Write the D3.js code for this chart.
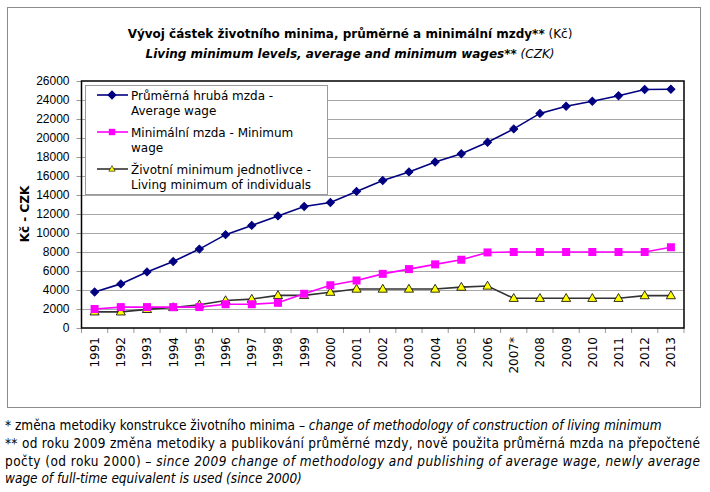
<!DOCTYPE html>
<html lang="cs">
<head>
    <meta charset="UTF-8">
    <title>Vývoj částek životního minima</title>
    <script src="https://d3js.org/d3.v7.min.js"></script>
    <style>
        body { margin: 0; background: #fff; }
        svg { display: block; font-family: "DejaVu Sans", Verdana, sans-serif; }
        .axis text { font-size: 12px; fill: #000; }
        .axis path { display: none; }
        .axis line { stroke: #999; }
        .grid line { stroke: #a6a6a6; stroke-width: 1; }
        .legend text { font-size: 12px; fill: #000; }
        .note { font-family: "DejaVu Sans Condensed", "DejaVu Sans", sans-serif; font-size: 13.5px; fill: #000; }
    </style>
</head>
<body>
    <svg id="chart" width="710" height="492"></svg>

    <script>
        // categories and series (CZK)
        var years = ["1991", "1992", "1993", "1994", "1995", "1996", "1997", "1998", "1999", "2000",
            "2001", "2002", "2003", "2004", "2005", "2006", "2007*", "2008", "2009", "2010",
            "2011", "2012", "2013"];
        var averageWage = [3792, 4644, 5904, 7004, 8307, 9825, 10802, 11801, 12797, 13219,
            14378, 15524, 16430, 17466, 18344, 19546, 20957, 22592, 23344, 23864,
            24455, 25112, 25128];
        var minimumWage = [2000, 2200, 2200, 2200, 2200, 2500, 2500, 2650, 3600, 4500,
            5000, 5700, 6200, 6700, 7185, 7955, 8000, 8000, 8000, 8000,
            8000, 8000, 8500];
        var livingMinimum = [1700, 1700, 1960, 2160, 2440, 2890, 3040, 3430, 3430, 3770,
            4100, 4100, 4100, 4100, 4300, 4420, 3126, 3126, 3126, 3126,
            3126, 3410, 3410];
        var yTicks = [0, 2000, 4000, 6000, 8000, 10000, 12000, 14000, 16000, 18000, 20000, 22000, 24000, 26000];

        var series = [
            { name: ["Průměrná hrubá mzda -", "Average wage"], values: averageWage, color: "#000080", marker: "diamond" },
            { name: ["Minimální mzda - Minimum", "wage"], values: minimumWage, color: "#ff00ff", marker: "square" },
            { name: ["Životní minimum jednotlivce -", "Living minimum of individuals"], values: livingMinimum, color: "#333333", marker: "triangle" }
        ];

        var svg = d3.select("#chart");

        // outer frame
        svg.append("rect")
            .attr("x", 7.5).attr("y", 7.5)
            .attr("width", 693).attr("height", 400)
            .attr("fill", "none").attr("stroke", "#8c8c8c");

        // plot area
        var plot = { left: 81.5, right: 684, top: 81, bottom: 328 };

        var x = d3.scaleBand()
            .domain(years)
            .range([plot.left, plot.right]);

        var y = d3.scaleLinear()
            .domain([0, 26000])
            .range([plot.bottom, plot.top]);

        // gridlines
        svg.append("g")
            .attr("class", "grid")
            .selectAll("line")
            .data(yTicks.slice(1, -1))
            .enter().append("line")
            .attr("x1", plot.left).attr("x2", plot.right)
            .attr("y1", function (d) { return Math.round(y(d)) + 0.5; })
            .attr("y2", function (d) { return Math.round(y(d)) + 0.5; });

        // y axis
        svg.append("g")
            .attr("class", "axis")
            .attr("transform", "translate(" + plot.left + ",0)")
            .call(d3.axisLeft(y).tickValues(yTicks).tickSize(5).tickPadding(7).tickFormat(d3.format("d")));

        // x axis ticks between categories
        var xTickPos = years.map(function (d) { return x(d); }).concat([plot.right]);
        svg.append("g")
            .attr("class", "axis")
            .selectAll("line")
            .data(xTickPos)
            .enter().append("line")
            .attr("x1", function (d) { return d; }).attr("x2", function (d) { return d; })
            .attr("y1", plot.bottom).attr("y2", plot.bottom + 5);

        svg.append("g")
            .attr("class", "axis")
            .selectAll("text")
            .data(years)
            .enter().append("text")
            .attr("transform", function (d) {
                return "translate(" + (x(d) + x.bandwidth() / 2 + 4.5) + "," + (plot.bottom + 9) + ") rotate(-90)";
            })
            .attr("text-anchor", "end")
            .text(function (d) { return d; });

        // plot frame
        svg.append("rect")
            .attr("x", plot.left).attr("y", plot.top)
            .attr("width", plot.right - plot.left).attr("height", plot.bottom - plot.top)
            .attr("fill", "none").attr("stroke", "#000").attr("stroke-width", 1.5);

        // lines and markers
        var line = d3.line()
            .x(function (d, i) { return x(years[i]) + x.bandwidth() / 2; })
            .y(function (d) { return y(d); });

        function drawMarker(g, type, color) {
            if (type === "diamond") {
                g.append("path").attr("d", d3.symbol(d3.symbolSquare, 32)())
                    .attr("transform", "rotate(45)")
                    .attr("fill", color).attr("stroke", color);
            } else if (type === "square") {
                g.append("rect").attr("x", -4).attr("y", -4).attr("width", 8).attr("height", 8)
                    .attr("fill", color);
            } else {
                g.append("path").attr("d", d3.symbol(d3.symbolTriangle, 36)())
                    .attr("transform", "translate(0,0.5)")
                    .attr("fill", "#ffff00").attr("stroke", "#000").attr("stroke-width", 0.8);
            }
        }

        series.slice().reverse().forEach(function (s) {
            svg.append("path")
                .datum(s.values)
                .attr("fill", "none")
                .attr("stroke", s.color)
                .attr("stroke-width", 1.6)
                .attr("d", line);

            svg.append("g").selectAll("g")
                .data(s.values)
                .enter().append("g")
                .attr("transform", function (d, i) {
                    return "translate(" + (x(years[i]) + x.bandwidth() / 2) + "," + y(d) + ")";
                })
                .each(function () { drawMarker(d3.select(this), s.marker, s.color); });
        });

        // legend
        var legend = svg.append("g").attr("class", "legend");
        legend.append("rect")
            .attr("x", 85.5).attr("y", 85.5)
            .attr("width", 242).attr("height", 109)
            .attr("fill", "#fff").attr("stroke", "#9a9a9a");

        series.forEach(function (s, i) {
            var ly = 95 + i * 37;
            legend.append("line")
                .attr("x1", 97).attr("x2", 128)
                .attr("y1", ly).attr("y2", ly)
                .attr("stroke", s.color).attr("stroke-width", 1.6);
            var m = legend.append("g").attr("transform", "translate(112," + ly + ")");
            drawMarker(m, s.marker, s.color);
            if (s.marker === "square") m.attr("transform", "translate(112," + ly + ") scale(0.8)");
            if (s.marker === "triangle") m.attr("transform", "translate(112," + ly + ") scale(0.7)");
            var t = legend.append("text").attr("x", 131).attr("y", ly + 4.5);
            s.name.forEach(function (n, j) {
                t.append("tspan").attr("x", 131).attr("dy", j === 0 ? 0 : 15).text(n);
            });
        });

        // y axis title
        svg.append("text")
            .attr("transform", "translate(29,214) rotate(-90)")
            .attr("text-anchor", "middle")
            .attr("font-size", "12px")
            .attr("font-weight", "bold")
            .text("Kč - CZK");

        // titles
        var t1 = svg.append("text")
            .attr("x", 350).attr("y", 38)
            .attr("text-anchor", "middle")
            .attr("font-size", "12px");
        t1.append("tspan").attr("font-weight", "bold").text("Vývoj částek životního minima, průměrné a minimální mzdy**");
        t1.append("tspan").text(" (Kč)");

        var t2 = svg.append("text")
            .attr("x", 350).attr("y", 58)
            .attr("text-anchor", "middle")
            .attr("font-size", "12px")
            .attr("font-style", "italic");
        t2.append("tspan").attr("font-weight", "bold").text("Living minimum levels, average and minimum wages**");
        t2.append("tspan").text(" (CZK)");

        // footnotes
        var notes = [
            { y: 430, parts: [["* změna metodiky konstrukce životního minima – ", false], ["change of methodology of construction of living minimum", true]], width: null },
            { y: 448, parts: [["** od roku 2009 změna metodiky a publikování průměrné mzdy, nově použita průměrná mzda na přepočtené", false]], width: 695 },
            { y: 466, parts: [["počty (od roku 2000) – ", false], ["since 2009 change of methodology and publishing of average wage, newly average", true]], width: 695 },
            { y: 483, parts: [["wage of full-time equivalent is used (since 2000)", true]], width: null }
        ];
        notes.forEach(function (n) {
            var t = svg.append("text").attr("class", "note").attr("x", 5).attr("y", n.y);
            if (n.width) t.attr("textLength", n.width).attr("lengthAdjust", "spacing");
            n.parts.forEach(function (p) {
                t.append("tspan").attr("font-style", p[1] ? "italic" : "normal").text(p[0]);
            });
        });
    </script>
</body>
</html>
